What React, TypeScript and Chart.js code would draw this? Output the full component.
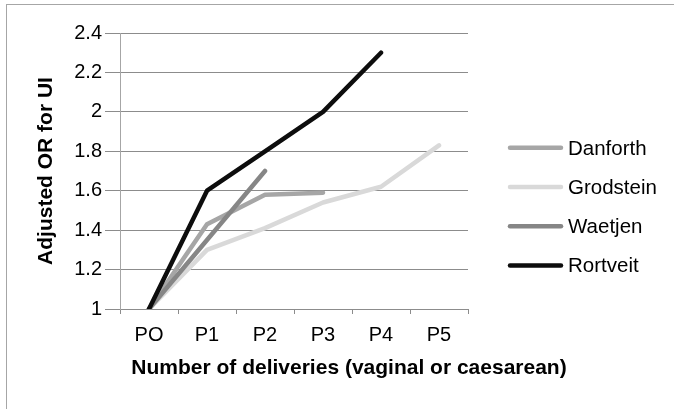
import React, { useEffect, useRef } from "react";
import { Chart, registerables } from "chart.js";

Chart.register(...registerables);

const categories = ["PO", "P1", "P2", "P3", "P4", "P5"];
const danforth = [1, 1.43, 1.58, 1.59, null, null];
const grodstein = [1, 1.3, 1.41, 1.54, 1.62, 1.83];
const waetjen = [1, 1.35, 1.7, null, null, null];
const rortveit = [1, 1.6, 1.8, 2.0, 2.3, null];
const seriesNames = ["Danforth", "Grodstein", "Waetjen", "Rortveit"];
const seriesColors = ["#a6a6a6", "#d9d9d9", "#868686", "#0d0d0d"];
const yMin = 1;
const yMax = 2.4;
const yStep = 0.2;
const yTitle = "Adjusted OR for UI";
const xTitle = "Number of deliveries (vaginal or caesarean)";

const FONT = '"Liberation Sans", Arial, sans-serif';

const customLegendAndTitle = {
  id: "customLegendAndTitle",
  afterDraw(chart: any) {
    const { ctx, chartArea } = chart;
    ctx.save();
    // x-axis title
    ctx.font = `bold 21px ${FONT}`;
    ctx.fillStyle = "#000";
    ctx.textAlign = "center";
    ctx.textBaseline = "alphabetic";
    ctx.fillText(xTitle, (chartArea.left + chartArea.right) / 2 + 55, chartArea.bottom + 65);
    // legend
    const rowH = 39.3;
    const yStart = chartArea.top + 114.7;
    const lx0 = chartArea.right + 42;
    const lx1 = chartArea.right + 93;
    const tx = chartArea.right + 100;
    ctx.font = `20.5px ${FONT}`;
    ctx.textAlign = "left";
    chart.data.datasets.forEach((ds: any, i: number) => {
      const y = yStart + i * rowH;
      ctx.beginPath();
      ctx.strokeStyle = ds.borderColor;
      ctx.lineWidth = 4.5;
      ctx.lineCap = "round";
      ctx.moveTo(lx0, y);
      ctx.lineTo(lx1, y);
      ctx.stroke();
      ctx.fillStyle = "#000";
      ctx.fillText(ds.label, tx, y + 6.8);
    });
    ctx.restore();
  },
};

export default function App() {
  const canvasRef = useRef<HTMLCanvasElement | null>(null);

  useEffect(() => {
    if (!canvasRef.current) return;
    const seriesData = [danforth, grodstein, waetjen, rortveit];
    const chart = new Chart(canvasRef.current, {
      type: "line",
      data: {
        labels: categories,
        datasets: seriesData.map((d, i) => ({
          label: seriesNames[i],
          data: d,
          borderColor: seriesColors[i],
          backgroundColor: seriesColors[i],
          borderWidth: 4.5,
          pointRadius: 0,
          pointHoverRadius: 0,
          borderJoinStyle: "round" as const,
          borderCapStyle: "round" as const,
          spanGaps: false,
          tension: 0,
          order: i === 3 ? 0 : i === 2 ? 1 : 2,
        })),
      },
      options: {
        responsive: false,
        animation: false,
        devicePixelRatio: 1,
        layout: { padding: { left: 0, top: 33, right: 206, bottom: 0 } },
        plugins: {
          legend: { display: false },
          tooltip: { enabled: false },
        },
        scales: {
          x: {
            type: "category",
            offset: true,
            grid: {
              offset: true,
              drawOnChartArea: false,
              drawTicks: true,
              tickLength: 5,
              color: "#8c8c8c",
            },
            border: { display: true, color: "#8c8c8c", width: 1 },
            ticks: {
              color: "#000",
              font: { family: FONT, size: 20 },
              padding: 9,
              maxRotation: 0,
            },
            afterFit: (scale: any) => {
              scale.height = 100;
            },
          },
          y: {
            min: yMin,
            max: yMax,
            ticks: {
              stepSize: yStep,
              color: "#000",
              font: { family: FONT, size: 20 },
              padding: 3,
              callback: (value: any) => String(Number(Number(value).toFixed(1))),
            },
            grid: {
              color: "#8c8c8c",
              tickLength: 15,
              drawTicks: true,
            },
            border: { display: true, color: "#a6a6a6", width: 1 },
            title: {
              display: true,
              text: yTitle,
              color: "#000",
              font: { family: FONT, size: 21, weight: "bold" },
              padding: { top: 34, bottom: 0 },
            },
            afterFit: (scale: any) => {
              scale.width = 120;
            },
          },
        },
      },
      plugins: [customLegendAndTitle],
    });
    return () => chart.destroy();
  }, []);

  return (
    <div style={{ position: "fixed", left: 0, top: 0, width: 674, height: 409, background: "#fff", overflow: "hidden" }}>
      <canvas ref={canvasRef} width={674} height={409} style={{ position: "absolute", left: 0, top: 0, width: 674, height: 409 }} />
      <div
        style={{
          position: "absolute",
          left: 6,
          top: 4,
          width: 700,
          height: 420,
          borderLeft: "1px solid #a6a6a6",
          borderTop: "1px solid #a6a6a6",
          pointerEvents: "none",
        }}
      />
    </div>
  );
}
